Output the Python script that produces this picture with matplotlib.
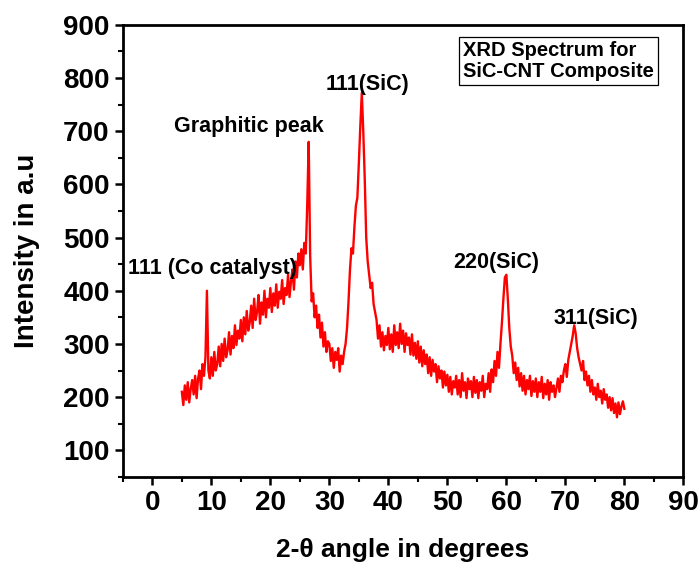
import numpy as np
import matplotlib
matplotlib.use("Agg")
import matplotlib.pyplot as plt
from matplotlib.ticker import MultipleLocator

plt.rcParams['font.family'] = ['Liberation Sans', 'DejaVu Sans']
plt.rcParams['font.weight'] = 'bold'

# 2-theta step 0.25 deg from 5 to 80
start_deg = 5.0
step_deg = 0.25
intensity = [
    # 5 - 10
    210, 185, 222, 195, 228, 190, 215, 232, 205, 240, 198, 235, 250, 215, 262, 240, 275, 400, 250, 235,
    # 10 - 15
    275, 240, 285, 250, 262, 295, 258, 300, 268, 310, 275, 288, 322, 280, 315, 292, 335, 298, 325, 310,
    # 15 - 20
    345, 305, 350, 318, 362, 325, 340, 372, 330, 385, 345, 360, 392, 338, 378, 355, 400, 350, 385, 368,
    # 20 - 25
    405, 360, 395, 372, 412, 368, 398, 385, 420, 375, 405, 392, 430, 388, 418, 440, 402, 455, 425, 470,
    # 25 - 30
    448, 478, 440, 490, 470, 560, 680, 465, 380, 395, 350, 372, 330, 355, 312, 340, 295, 322, 285, 305,
    # 30 - 35
    300, 268, 292, 255, 285, 270, 292, 248, 278, 262, 285, 300, 330, 380, 440, 480, 470, 520, 560, 575,
    # 35 - 40
    640, 710, 772, 700, 610, 500, 455, 430, 405, 415, 375, 360, 345, 310, 335, 295, 322, 288, 315, 298,
    # 40 - 45
    330, 290, 318, 285, 335, 298, 322, 292, 338, 300, 325, 285, 320, 298, 312, 280, 318, 278, 302, 272,
    # 45 - 50
    305, 265, 295, 258, 288, 262, 280, 245, 275, 240, 270, 248, 262, 228, 258, 235, 250, 218, 248, 222,
    # 50 - 55
    242, 210, 238, 205, 230, 218, 240, 205, 232, 200, 245, 212, 228, 198, 235, 215, 230, 200, 238, 208,
    # 55 - 60
    232, 198, 228, 212, 240, 200, 225, 215, 245, 210, 252, 228, 268, 240, 285, 255, 300, 340, 385, 425,
    # 60 - 65
    430, 385, 330, 295, 278, 245, 265, 232, 255, 220, 245, 212, 240, 205, 232, 215, 240, 202, 230, 210,
    # 65 - 70
    235, 200, 228, 210, 238, 198, 225, 205, 232, 195, 228, 210, 222, 200, 218, 235, 210, 240, 228, 250,
    # 70 - 75
    262, 238, 270, 285, 300, 315, 335, 320, 292, 275, 262, 250, 268, 232, 248, 222, 240, 210, 232, 205,
    # 75 - 80
    218, 195, 225, 200, 212, 188, 215, 195, 205, 180, 200, 175, 198, 170, 188, 162, 190, 168, 182, 192, 178,
]
two_theta = start_deg + step_deg * np.arange(len(intensity))

peak_labels = ["111 (Co catalyst)", "Graphitic peak", "111(SiC)", "220(SiC)", "311(SiC)"]
label_x = [-4.2, 3.6, 29.3, 51.0, 68.0]
label_y = [442, 708, 787, 453, 347]

fig = plt.figure(figsize=(6.98, 5.65), dpi=100)
ax = fig.add_axes([0.176, 0.156, 0.803, 0.800])

ax.plot(two_theta, intensity, color='#ff0000', lw=1.7)

for txt, x, y in zip(peak_labels, label_x, label_y):
    ax.text(x, y, txt, fontsize=15.5, fontweight='bold', ha='left', va='center')

ax.text(52.6, 832, "XRD Spectrum for\nSiC-CNT Composite", fontsize=14.5, fontweight='bold',
        ha='left', va='center', linespacing=1.1,
        bbox=dict(boxstyle='square,pad=0.2', fc='white', ec='black', lw=0.9))

ax.set_xlim(-5, 90)
ax.set_ylim(50, 900)
ax.xaxis.set_major_locator(MultipleLocator(10))
ax.xaxis.set_minor_locator(MultipleLocator(5))
ax.yaxis.set_major_locator(MultipleLocator(100))
ax.yaxis.set_minor_locator(MultipleLocator(50))
ax.set_yticks(np.arange(100, 901, 100))

ax.tick_params(which='major', direction='out', length=6, width=1.8, labelsize=20)
ax.tick_params(which='minor', direction='out', length=3.5, width=1.5)
for s in ax.spines.values():
    s.set_linewidth(2.0)
for lbl in ax.get_xticklabels() + ax.get_yticklabels():
    lbl.set_fontweight('bold')

ax.set_xlabel("2-θ angle in degrees", fontsize=19, fontweight='bold', labelpad=16)
ax.set_ylabel("Intensity in a.u", fontsize=20, fontweight='bold', labelpad=17)

fig.savefig("out.png", dpi=100)
